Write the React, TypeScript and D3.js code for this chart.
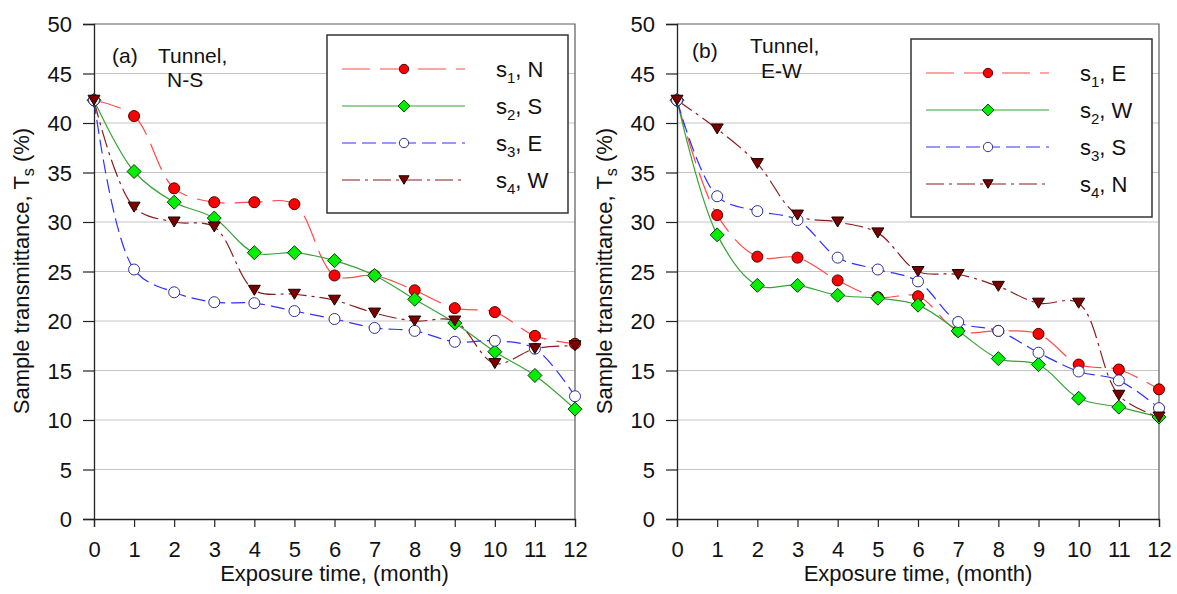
import * as d3 from "d3";
import React, { useRef, useEffect } from "react";

const months = [0, 1, 2, 3, 4, 5, 6, 7, 8, 9, 10, 11, 12];
const yTicks = [0, 5, 10, 15, 20, 25, 30, 35, 40, 45, 50];

// (a) tunnel N-S
const aS1 = [42.3, 40.7, 33.4, 32.0, 32.0, 31.8, 24.6, 24.6, 23.1, 21.3, 20.9, 18.5, 17.7];
const aS2 = [42.3, 35.1, 32.0, 30.4, 26.9, 26.9, 26.1, 24.6, 22.2, 19.8, 16.9, 14.5, 11.1];
const aS3 = [42.3, 25.2, 22.9, 21.9, 21.8, 21.0, 20.2, 19.3, 19.0, 17.9, 18.0, 17.2, 12.4];
const aS4 = [42.3, 31.5, 30.0, 29.5, 23.1, 22.7, 22.1, 20.8, 20.0, 20.0, 15.7, 17.2, 17.5];
const aNames = ["N", "S", "E", "W"];

// (b) tunnel E-W
const bS1 = [42.3, 30.7, 26.5, 26.4, 24.1, 22.4, 22.5, 19.0, 19.0, 18.7, 15.6, 15.1, 13.1];
const bS2 = [42.3, 28.7, 23.6, 23.6, 22.6, 22.3, 21.6, 19.0, 16.2, 15.6, 12.2, 11.3, 10.3];
const bS3 = [42.3, 32.6, 31.1, 30.2, 26.4, 25.2, 24.0, 19.9, 19.0, 16.8, 14.9, 14.0, 11.2];
const bS4 = [42.3, 39.4, 35.9, 30.7, 30.0, 28.9, 25.0, 24.7, 23.5, 21.8, 21.8, 12.5, 10.3];
const bNames = ["E", "W", "S", "N"];

const styles = [
  { line: "#ff4a4a", dash: "28,10", marker: "circle", fill: "#ff0000", stroke: "#4a0000" },
  { line: "#36a336", dash: null, marker: "diamond", fill: "#00f000", stroke: "#0c3a0c" },
  { line: "#3030ff", dash: "14,6", marker: "circle", fill: "#ffffff", stroke: "#303090" },
  { line: "#8a1c1c", dash: "18,5,3,5", marker: "triangle", fill: "#7a0000", stroke: "#1a0000" },
];

const font = "Arial, 'Liberation Sans', sans-serif";

function addMarker(g, kind, x, y, st, s = 1) {
  if (kind === "circle") {
    g.append("circle").attr("cx", x).attr("cy", y).attr("r", 5.5 * s)
      .attr("fill", st.fill).attr("stroke", st.stroke).attr("stroke-width", 1);
  } else if (kind === "diamond") {
    const r = 7 * s;
    g.append("path").attr("d", `M${x},${y - r}L${x + r},${y}L${x},${y + r}L${x - r},${y}Z`)
      .attr("fill", st.fill).attr("stroke", st.stroke).attr("stroke-width", 1);
  } else {
    const w = 6 * s, h = 10 * s;
    g.append("path").attr("d", `M${x - w},${y - h / 2}L${x + w},${y - h / 2}L${x},${y + h / 2}Z`)
      .attr("fill", st.fill).attr("stroke", st.stroke).attr("stroke-width", 1);
  }
}

function drawPanel(svg, p) {
  const x = d3.scaleLinear().domain([0, 12]).range([p.left, p.right]);
  const y = d3.scaleLinear().domain([0, 50]).range([519, 24]);
  const g = svg.append("g");

  // grid
  g.selectAll(".grid").data(yTicks.filter((t) => t > 0 && t < 50)).enter()
    .append("line")
    .attr("x1", p.left).attr("x2", p.right)
    .attr("y1", (d) => y(d)).attr("y2", (d) => y(d))
    .attr("stroke", "#c4c4c4").attr("stroke-width", 1);

  // frame top / right
  g.append("path")
    .attr("d", `M${p.left},${y(50)}H${p.right}V${y(0)}`)
    .attr("fill", "none").attr("stroke", "#5a5a5a").attr("stroke-width", 1.2);

  const yAxis = g.append("g").attr("transform", `translate(${p.left},0)`)
    .call(d3.axisLeft(y).tickValues(yTicks).tickSize(11).tickPadding(11).tickFormat(d3.format("d")));
  const xAxis = g.append("g").attr("transform", `translate(0,${y(0)})`)
    .call(d3.axisBottom(x).tickValues(months).tickSize(8).tickPadding(14).tickFormat(d3.format("d")));
  [yAxis, xAxis].forEach((a) => {
    a.select(".domain").attr("stroke", "#222").attr("stroke-width", 1.3);
    a.selectAll(".tick line").attr("stroke", "#222").attr("stroke-width", 1.2);
    a.selectAll("text").attr("font-family", font).attr("font-size", 22).attr("fill", "#111");
  });
  yAxis.selectAll("text").attr("dy", "0.36em");
  xAxis.selectAll("text").attr("dy", "0.72em");

  // titles
  g.append("text")
    .attr("x", (p.left + p.right) / 2).attr("y", 581)
    .attr("text-anchor", "middle").attr("font-family", font).attr("font-size", 22).attr("fill", "#111")
    .text("Exposure time, (month)");
  const yt = g.append("text")
    .attr("transform", `translate(${p.left - 65},271)rotate(-90)`)
    .attr("text-anchor", "middle").attr("font-family", font).attr("font-size", 22).attr("fill", "#111");
  yt.append("tspan").text("Sample transmittance, T");
  yt.append("tspan").attr("font-size", 16).attr("dy", 5).text("s");
  yt.append("tspan").attr("dy", -5).text(" (%)");

  // annotation
  p.notes.forEach((n) => {
    g.append("text").attr("x", n.x).attr("y", n.y)
      .attr("font-family", font).attr("font-size", 21).attr("fill", "#111").text(n.t);
  });

  // lines
  const line = d3.line().x((d, i) => x(months[i])).y((d) => y(d)).curve(d3.curveCatmullRom.alpha(0.5));
  p.series.forEach((s, k) => {
    const st = styles[k];
    g.append("path").datum(s).attr("d", line)
      .attr("fill", "none").attr("stroke", st.line).attr("stroke-width", 1.2)
      .attr("stroke-dasharray", st.dash);
  });
  p.series.forEach((s, k) => {
    const st = styles[k];
    s.forEach((v, i) => addMarker(g, st.marker, x(months[i]), y(v), st));
  });

  // legend
  const lg = g.append("g").attr("transform", `translate(${p.lx},${p.ly})`);
  lg.append("rect").attr("width", 241).attr("height", 178)
    .attr("fill", "#fff").attr("stroke", "#333").attr("stroke-width", 1.5);
  p.names.forEach((nm, k) => {
    const st = styles[k];
    const yy = 34 + k * 37;
    lg.append("line").attr("x1", 15).attr("x2", 138).attr("y1", yy).attr("y2", yy)
      .attr("stroke", st.line).attr("stroke-width", 1.2).attr("stroke-dasharray", st.dash);
    addMarker(lg, st.marker, 77, yy, st, 0.85);
    const t = lg.append("text").attr("x", 169).attr("y", yy + 8)
      .attr("font-family", font).attr("font-size", 22).attr("fill", "#111");
    t.append("tspan").text("s");
    t.append("tspan").attr("font-size", 15).attr("dy", 6).text(String(k + 1));
    t.append("tspan").attr("dy", -6).text(", " + nm);
  });
}

function App() {
  const ref = useRef();

  useEffect(() => {
    const svg = d3.select(ref.current);
    svg.selectAll("*").remove();
    drawPanel(svg, {
      left: 94, right: 575, lx: 327, ly: 35,
      series: [aS1, aS2, aS3, aS4], names: aNames,
      notes: [
        { x: 112, y: 63, t: "(a)" },
        { x: 158, y: 63, t: "Tunnel," },
        { x: 167, y: 87, t: "N-S" },
      ],
    });
    drawPanel(svg, {
      left: 677, right: 1159, lx: 911, ly: 39,
      series: [bS1, bS2, bS3, bS4], names: bNames,
      notes: [
        { x: 692, y: 58, t: "(b)" },
        { x: 750, y: 53, t: "Tunnel," },
        { x: 761, y: 78, t: "E-W" },
      ],
    });
  }, []);

  return (
    <svg ref={ref} width={1177} height={594}
      style={{ position: "absolute", left: 0, top: 0, background: "#fff" }} />
  );
}

export default App;
